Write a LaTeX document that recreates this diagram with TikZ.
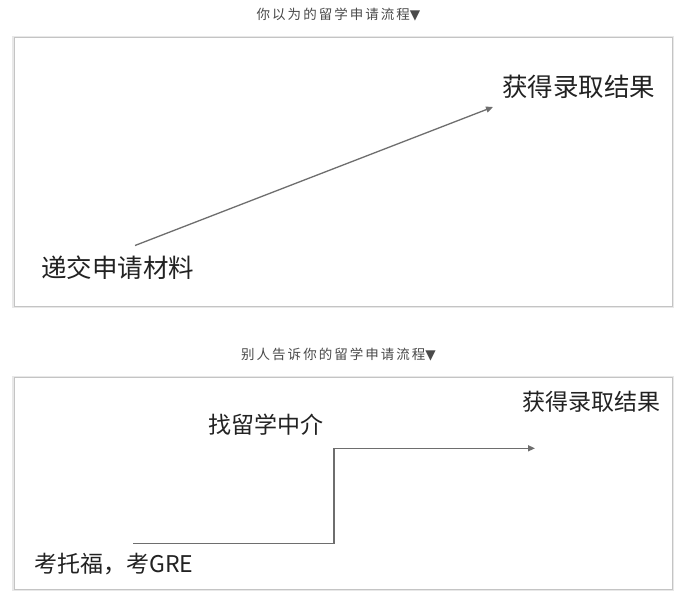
\documentclass[tikz,border=0pt]{standalone}
\usepackage{fontspec}
\newfontfamily\cjk{Noto Sans CJK SC}
\newfontfamily\cjkt[LetterSpace=15]{Noto Sans CJK SC}
\newfontfamily\symf{DejaVu Sans}
\usetikzlibrary{arrows.meta}
\definecolor{txt}{HTML}{222222}
\definecolor{ttl}{HTML}{4A4A4A}
\definecolor{arr}{HTML}{6E6E6E}
\definecolor{frame}{HTML}{C4C4C4}
\definecolor{shade}{HTML}{E8E8E8}
\begin{document}
\begin{tikzpicture}[x=1pt,y=-1pt,
 title/.style={font=\cjkt\fontsize{13.5}{14}\selectfont, text=ttl, inner sep=0pt},
 big/.style={font=\cjk\fontsize{25.5}{27}\selectfont, text=txt, inner sep=0pt},
 mid/.style={font=\cjk\fontsize{23}{25}\selectfont, text=txt, inner sep=0pt},
 panel/.style={draw=frame, line width=1pt, fill=white},
 halo/.style={draw=shade, line width=3.5pt},
 flow/.style={draw=arr, line width=1.3pt, -{Triangle[length=7pt,width=6pt]}}]
\useasboundingbox (0,0) rectangle (682,597);
\fill[white] (0,0) rectangle (682,597);
% titles
\node[title] (t1) at (338.5,15) {你以为的留学申请流程{\symf ▼}};
\node[title] (t2) at (338.5,355) {别人告诉你的留学申请流程{\symf ▼}};
% panel 1
\draw[halo] (14,37.5) rectangle (672,306);
\draw[panel] (14,37.5) rectangle (672,306);
\node[big, anchor=west] (res1) at (502,87) {获得录取结果};
\node[big, anchor=west] (sub) at (41,267.5) {递交申请材料};
\coordinate (s1) at (135,245.5);
\coordinate (e1) at (493,107);
\draw[flow] (s1) -- (e1);
% panel 2
\draw[halo] (14,377.5) rectangle (672,589);
\draw[panel] (14,377.5) rectangle (672,589);
\node[mid, anchor=west] (res2) at (522,402) {获得录取结果};
\node[mid, anchor=west] (agent) at (208,425) {找留学中介};
\node[mid, anchor=west] (exam) at (34,564.5) {考托福，考GRE};
\coordinate (s2) at (133,543.3);
\coordinate (k2) at (334,448.3);
\coordinate (e2) at (535,448.3);
\draw[flow] (s2) -| (k2) -- (e2);
\end{tikzpicture}
\end{document}
